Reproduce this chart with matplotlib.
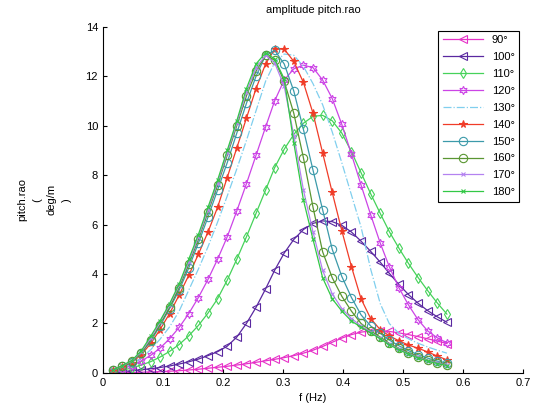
import numpy as np
import matplotlib
matplotlib.use('Agg')
import matplotlib.pyplot as plt

plt.rcParams['font.family'] = ['Liberation Sans', 'DejaVu Sans']

# tần số (Hz)
freq = [0.016, 0.032, 0.048, 0.064, 0.080, 0.095, 0.111, 0.127, 0.143, 0.159,
        0.175, 0.191, 0.207, 0.223, 0.239, 0.255, 0.271, 0.286, 0.302, 0.318,
        0.334, 0.350, 0.366, 0.382, 0.398, 0.414, 0.430, 0.446, 0.462, 0.477,
        0.493, 0.509, 0.525, 0.541, 0.557, 0.573]

headings = ['90°', '100°', '110°', '120°', '130°', '140°', '150°', '160°', '170°', '180°']

rao_90 = [0.0, 0.01, 0.02, 0.03, 0.04, 0.05, 0.07, 0.09, 0.12, 0.15, 0.19, 0.23,
          0.27, 0.32, 0.37, 0.43, 0.49, 0.55, 0.62, 0.70, 0.80, 0.92, 1.07, 1.24,
          1.41, 1.55, 1.65, 1.70, 1.71, 1.68, 1.62, 1.55, 1.47, 1.38, 1.29, 1.19]
rao_100 = [0.02, 0.05, 0.09, 0.13, 0.17, 0.22, 0.28, 0.36, 0.45, 0.56, 0.70, 0.86,
           1.08, 1.45, 2.0, 2.65, 3.4, 4.15, 4.85, 5.4, 5.8, 6.05, 6.15, 6.12,
           5.97, 5.7, 5.33, 4.92, 4.48, 4.03, 3.58, 3.17, 2.82, 2.52, 2.27, 2.05]
rao_110 = [0.04, 0.11, 0.2, 0.32, 0.46, 0.64, 0.87, 1.15, 1.5, 1.92, 2.42, 3.0,
           3.75, 4.6, 5.5, 6.45, 7.4, 8.3, 9.05, 9.65, 10.1, 10.38, 10.42, 10.2,
           9.7, 8.95, 8.1, 7.25, 6.45, 5.72, 5.05, 4.43, 3.86, 3.33, 2.83, 2.38]
rao_120 = [0.06, 0.16, 0.3, 0.48, 0.72, 1.0, 1.38, 1.84, 2.4, 3.05, 3.78, 4.6,
           5.5, 6.55, 7.65, 8.8, 9.95, 11.0, 11.85, 12.3, 12.45, 12.35, 11.85, 11.1,
           10.05, 8.85, 7.6, 6.4, 5.25, 4.3, 3.45, 2.75, 2.15, 1.7, 1.42, 1.22]
rao_130 = [0.07, 0.2, 0.36, 0.6, 0.95, 1.36, 1.86, 2.5, 3.35, 4.2, 5.1, 6.1,
           7.15, 8.25, 9.4, 10.6, 11.8, 12.55, 12.9, 12.85, 12.4, 11.7, 10.85, 9.75,
           8.5, 7.2, 5.9, 4.2, 2.8, 2.0, 1.6, 1.38, 1.2, 1.05, 0.92, 0.8]
rao_140 = [0.08, 0.24, 0.42, 0.74, 1.2, 1.75, 2.4, 3.15, 3.95, 4.8, 5.7, 6.7,
           7.9, 9.1, 10.3, 11.5, 12.5, 13.1, 13.1, 12.6, 11.75, 10.5, 8.9, 7.3,
           5.75, 4.3, 3.0, 2.2, 1.75, 1.5, 1.3, 1.13, 1.0, 0.85, 0.68, 0.53]
rao_150 = [0.1, 0.27, 0.46, 0.8, 1.3, 1.9, 2.6, 3.35, 4.25, 5.25, 6.3, 7.4,
           8.5, 9.7, 10.9, 12.0, 12.85, 13.05, 12.5, 11.4, 9.85, 8.2, 6.6, 5.0,
           3.9, 3.05, 2.35, 1.9, 1.6, 1.33, 1.1, 0.9, 0.74, 0.6, 0.48, 0.4]
rao_160 = [0.1, 0.28, 0.47, 0.82, 1.35, 1.95, 2.65, 3.45, 4.4, 5.4, 6.5, 7.6,
           8.8, 10.0, 11.2, 12.2, 12.85, 12.65, 11.8, 10.5, 8.7, 6.7, 4.9, 3.85,
           3.1, 2.5, 2.0, 1.7, 1.45, 1.2, 1.0, 0.82, 0.66, 0.52, 0.42, 0.33]
rao_170 = [0.1, 0.29, 0.48, 0.86, 1.42, 2.05, 2.75, 3.55, 4.5, 5.5, 6.6, 7.7,
           8.9, 10.1, 11.35, 12.35, 12.85, 12.55, 11.6, 9.6, 7.4, 5.7, 4.15, 3.2,
           2.6, 2.2, 1.9, 1.65, 1.4, 1.16, 0.96, 0.78, 0.63, 0.5, 0.4, 0.31]
rao_180 = [0.1, 0.3, 0.5, 0.9, 1.5, 2.1, 2.8, 3.6, 4.6, 5.6, 6.7, 7.8,
           9.0, 10.2, 11.5, 12.5, 12.95, 12.7, 11.9, 9.3, 7.0, 5.4, 3.85, 3.0,
           2.5, 2.1, 1.85, 1.62, 1.38, 1.14, 0.94, 0.76, 0.61, 0.48, 0.38, 0.3]

series = [rao_90, rao_100, rao_110, rao_120, rao_130,
          rao_140, rao_150, rao_160, rao_170, rao_180]

# màu, marker, kiểu đường cho từng hướng sóng
colors = ['#e632c8', '#5a28a0', '#46d25a', '#cc44e6', '#80cfee',
          '#f03c28', '#3c9aaa', '#5a9632', '#b482f0', '#32c846']
markers = ['<', '<', 'd', (6, 1, 0), None, '*', 'o', 'o', 'x', 'x']
sizes = [6, 6, 5.5, 6, 0, 5.5, 6, 6, 3.5, 3.5]
filled = [False, False, False, False, False, True, False, False, False, False]
styles = ['-', '-', '-', '-', '-.', '-', '-', '-', '-', '-']

fig = plt.figure(figsize=(5.36, 4.13), dpi=100)
ax = fig.add_axes([0.192, 0.097, 0.784, 0.838])

for i in range(len(series)):
    ax.plot(freq, series[i], linestyle=styles[i], color=colors[i],
            marker=markers[i], markersize=sizes[i],
            markerfacecolor=colors[i] if filled[i] else 'none',
            markeredgecolor=colors[i], markeredgewidth=0.8, linewidth=0.9,
            label=headings[i])

ax.set_xlim(0, 0.7)
ax.set_ylim(0, 14)
ax.set_xticks(np.arange(0, 0.71, 0.1))
ax.set_xticklabels(['0', '0.1', '0.2', '0.3', '0.4', '0.5', '0.6', '0.7'])
ax.set_yticks(np.arange(0, 15, 2))
ax.tick_params(direction='in', length=3, labelsize=8)
ax.spines['top'].set_visible(False)
ax.spines['right'].set_visible(False)

ax.set_title('amplitude pitch.rao', fontsize=8, pad=10)
ax.set_xlabel('f (Hz)', fontsize=8)
ax.set_ylabel('pitch.rao\n(\ndeg/m\n)', fontsize=8, labelpad=10, linespacing=1.6)

leg = ax.legend(loc='upper right', fontsize=8, handlelength=3.6,
                labelspacing=0.62, borderaxespad=0.35, fancybox=False,
                framealpha=1, edgecolor='black')
leg.get_frame().set_linewidth(0.8)

plt.savefig('out.png', dpi=100)
